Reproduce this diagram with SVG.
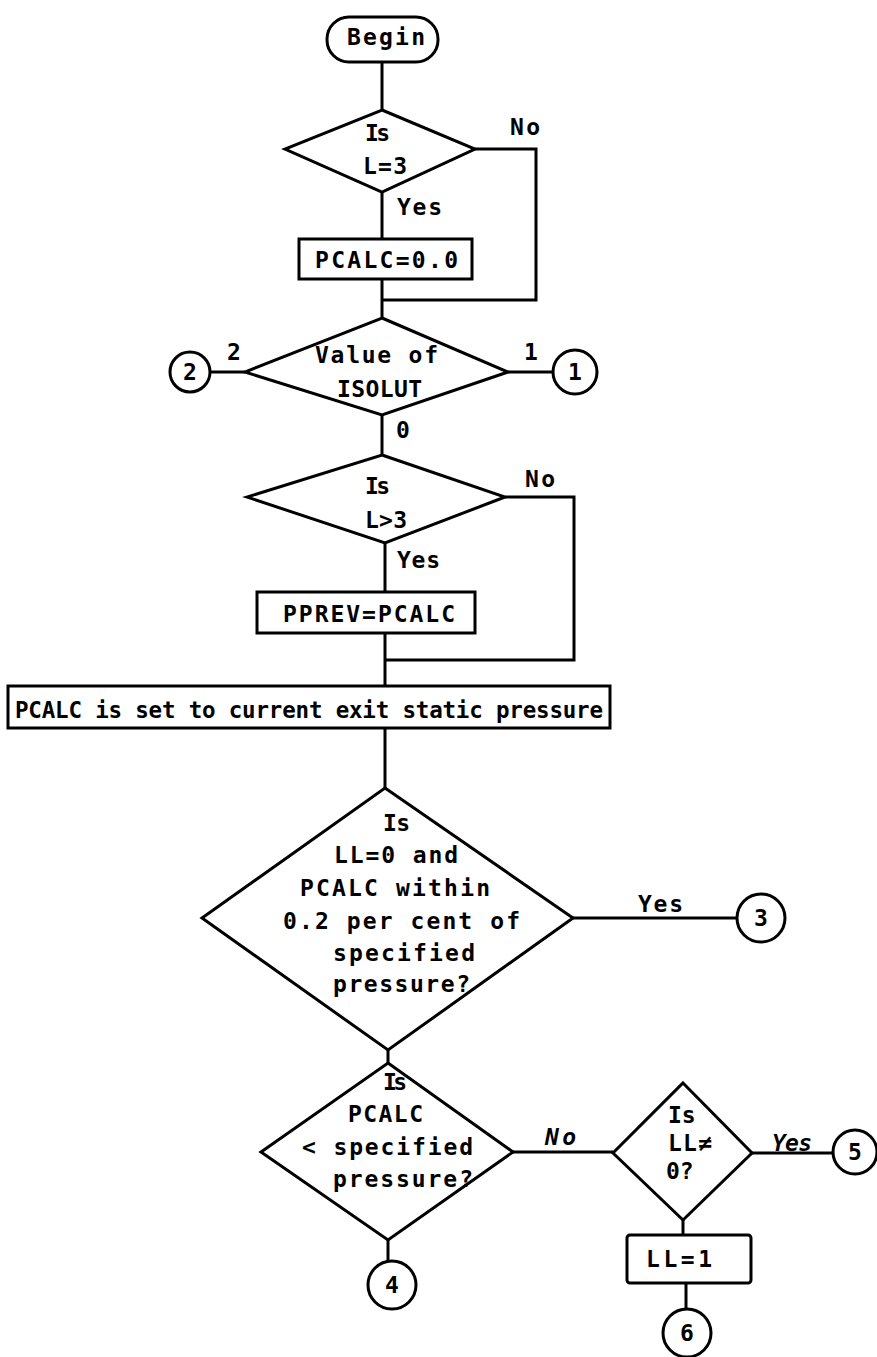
<svg xmlns="http://www.w3.org/2000/svg" width="877" height="1357" viewBox="0 0 877 1357">
<style>
.s{fill:none;stroke:#000;stroke-width:3;stroke-linejoin:miter}
.n{fill:#fff;stroke:#000;stroke-width:3}
.t{font-family:"DejaVu Sans Mono","Liberation Mono",monospace;font-weight:bold;font-size:23px;fill:#000}
.c{text-anchor:middle}
.i{font-style:italic}
</style>
<rect width="877" height="1357" fill="#fff"/>
<g id="connectors">
<path class="s" d="M382 62V110"/>
<path class="s" d="M382 192V239"/>
<path class="s" d="M475 149H536V300H382"/>
<path class="s" d="M382 279V318"/>
<path class="s" d="M210 372H245"/>
<path class="s" d="M508 372H553"/>
<path class="s" d="M382 415V455"/>
<path class="s" d="M385 543V592"/>
<path class="s" d="M505 497H574V660H385"/>
<path class="s" d="M385 633V686"/>
<path class="s" d="M385 728V788"/>
<path class="s" d="M573 918H737"/>
<path class="s" d="M388 1050V1063"/>
<path class="s" d="M388 1240V1261"/>
<path class="s" d="M513 1152H613"/>
<path class="s" d="M752 1153H833"/>
<path class="s" d="M683 1220V1235"/>
<path class="s" d="M686 1283V1308"/>
<text class="t" x="510" y="135" textLength="30">No</text>
<text class="t" x="397" y="215" textLength="45">Yes</text>
<text class="t" x="227" y="360">2</text>
<text class="t" x="524" y="360">1</text>
<text class="t" x="396" y="438">0</text>
<text class="t" x="525" y="487" textLength="30">No</text>
<text class="t" x="397" y="568" textLength="43">Yes</text>
<text class="t" x="638" y="912" textLength="45">Yes</text>
<text class="t i" x="545" y="1145" textLength="31">No</text>
<text class="t i" x="772" y="1151" textLength="40">Yes</text>
</g>
<g id="begin">
<rect class="n" x="327" y="17" width="111" height="45" rx="22"/>
<text class="t" x="347" y="45" textLength="78">Begin</text>
</g>
<g id="dec-l3">
<polygon class="n" points="382,110 475,149 382,192 285,149"/>
<text class="t" x="365" y="141" textLength="25">Is</text>
<text class="t" x="363" y="174" textLength="44">L=3</text>
</g>
<g id="pcalc0">
<rect class="n" x="299" y="239" width="173" height="40"/>
<text class="t" x="315" y="268" textLength="143">PCALC=0.0</text>
</g>
<g id="dec-isolut">
<polygon class="n" points="382,318 508,372 382,415 245,372"/>
<text class="t" x="315" y="363" textLength="123">Value of</text>
<text class="t" x="337" y="397" textLength="85">ISOLUT</text>
</g>
<g id="conn2">
<circle class="n" cx="190" cy="372" r="20"/>
<text class="t c" x="190" y="380">2</text>
</g>
<g id="conn1">
<circle class="n" cx="575" cy="372" r="22"/>
<text class="t c" x="575" y="380">1</text>
</g>
<g id="dec-lgt3">
<polygon class="n" points="382,455 505,497 385,543 247,497"/>
<text class="t" x="365" y="494" textLength="25">Is</text>
<text class="t" x="365" y="528" textLength="42">L&gt;3</text>
</g>
<g id="pprev">
<rect class="n" x="257" y="592" width="218" height="41"/>
<text class="t" x="283" y="622" textLength="172">PPREV=PCALC</text>
</g>
<g id="setpcalc">
<rect class="n" x="8" y="686" width="602" height="42"/>
<text class="t" x="15" y="718" textLength="588" style="font-size:22.5px">PCALC is set to current exit static pressure</text>
</g>
<g id="dec-within">
<polygon class="n" points="385,788 573,918 388,1050 202,918"/>
<text class="t" x="383" y="831" textLength="27">Is</text>
<text class="t" x="334" y="863" textLength="124">LL=0 and</text>
<text class="t" x="300" y="896" textLength="190">PCALC within</text>
<text class="t" x="283" y="929" textLength="237">0.2 per cent of</text>
<text class="t" x="333" y="961" textLength="142">specified</text>
<text class="t" x="333" y="992" textLength="137">pressure?</text>
</g>
<g id="conn3">
<circle class="n" cx="761" cy="918" r="24"/>
<text class="t c" x="761" y="926">3</text>
</g>
<g id="dec-less">
<polygon class="n" points="388,1063 513,1152 388,1240 261,1152"/>
<text class="t" x="383" y="1090" textLength="24">Is</text>
<text class="t" x="348" y="1122" textLength="75">PCALC</text>
<text class="t" x="302" y="1155" textLength="171">&lt; specified</text>
<text class="t" x="333" y="1187" textLength="140">pressure?</text>
</g>
<g id="conn4">
<circle class="n" cx="392" cy="1285" r="24"/>
<text class="t c" x="392" y="1293">4</text>
</g>
<g id="dec-llne0">
<polygon class="n" points="683,1083 752,1153 683,1220 613,1153"/>
<text class="t" x="668" y="1123">Is</text>
<text class="t" x="668" y="1151" textLength="44">LL≠</text>
<text class="t" x="666" y="1179">0?</text>
</g>
<g id="conn5">
<circle class="n" cx="855" cy="1152" r="22"/>
<text class="t c" x="855" y="1160">5</text>
</g>
<g id="ll1">
<rect class="n" x="627" y="1235" width="124" height="48" rx="3"/>
<text class="t" x="646" y="1267" textLength="66">LL=1</text>
</g>
<g id="conn6">
<circle class="n" cx="687" cy="1333" r="24"/>
<text class="t c" x="687" y="1341">6</text>
</g>
</svg>
